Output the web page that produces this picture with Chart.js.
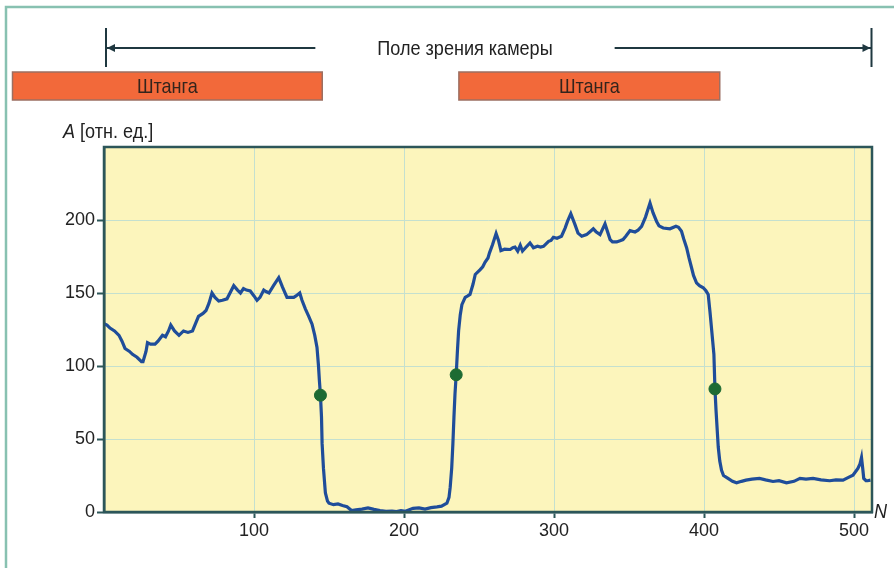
<!DOCTYPE html>
<html lang="ru">
<head>
<meta charset="utf-8">
<title>Поле зрения камеры</title>
<script src="https://cdn.jsdelivr.net/npm/chart.js@4.4.1/dist/chart.umd.min.js"></script>
<style>
  html, body { margin: 0; padding: 0; background: #ffffff; }
  canvas { display: block; }
</style>
</head>
<body>
<canvas id="profile" width="894" height="568"></canvas>
<script>
// Pixel index along the camera line (N) and measured amplitude A, relative units
const pixelIndex = [
  0, 2, 4, 7, 10, 12, 14, 17, 19, 22, 25, 26, 28, 29, 31, 34, 36, 39, 41, 43,
  44.5, 47, 50, 53, 56, 59, 61, 63, 66, 68, 70, 72, 74, 76.5, 79, 82, 84, 86.5, 89, 91,
  93, 95, 97.5, 100, 102, 104, 106.5, 108, 110, 113, 116.5, 119, 122, 124, 126.5, 128, 130.5, 132, 134.3, 136.5,
  138.7, 140.5, 142, 143, 143.6, 144.3, 145, 145.4, 146.3, 147.6, 149, 150, 153, 156, 159, 162, 165, 168, 172, 176,
  180, 184, 188, 192, 195, 198, 201, 204, 206, 210, 214, 218, 222, 225, 228.6, 230, 230.8, 231.8, 232.6, 233.3,
  234, 234.8, 235.6, 236.4, 237.5, 238.6, 240.8, 242.5, 244, 246, 247.5, 250.8, 252.5, 254, 256, 257, 259, 261.4, 263, 264.6,
  267, 270.8, 272.5, 274, 275.8, 277.5, 279, 281, 284, 286.3, 289, 291, 293, 296.4, 298, 299.6, 302, 305, 307.4, 309,
  311.2, 314, 316, 318.5, 321.7, 324, 326.2, 328, 330.7, 334, 337.4, 339, 341.8, 344, 346, 348, 350.7, 354, 356, 358.4,
  361, 364, 366, 368.4, 370, 372.8, 377.3, 381.3, 383, 385, 386.5, 388.4, 390, 391.7, 393, 395, 397, 399.5, 401.3, 402.8,
  404, 405, 406.6, 407.3, 408, 409.5, 410.5, 411.7, 413, 416, 419, 421.7, 425, 428, 432, 437, 441, 446, 450, 455,
  460, 464, 468, 472.7, 478, 483.8, 488, 492.7, 496, 499.3, 502.6, 504, 505, 505.8, 506.5, 508, 509, 511
];
const amplitude = [
  129, 128, 126, 124, 121, 117, 112, 110, 108, 106, 103, 103, 110, 116, 115, 115, 117, 121, 120, 124,
  128, 124, 121, 124, 123, 124, 129, 134, 136, 138, 143, 150, 147, 144.5, 145, 146, 150, 155, 152, 150,
  153, 152, 151.4, 148, 145, 147, 152, 151, 150, 155, 160.5, 154, 147, 147, 147, 148, 150, 145, 139, 134,
  128.6, 121, 112.7, 100, 90, 80, 65, 47, 30, 13, 7.5, 6, 5, 5.5, 4.5, 3.6, 1, 1.5, 2, 2.8,
  1.8, 1, 0.5, 0.6, 0.3, 1, 0.5, 1.8, 2.5, 2.8, 2, 3, 3.5, 4, 6, 10, 17, 30, 47, 65,
  81, 94, 110, 124, 135, 142, 147, 148, 149, 156, 162.7, 166, 168, 171, 174, 177.5, 183, 190.7, 186, 179,
  180, 179.8, 181, 181.4, 178.7, 182.7, 178.7, 181, 184.3, 181, 182, 181.5, 182, 185.4, 186, 188.2, 187.5, 188.9, 194.5, 199,
  204.3, 196.8, 191, 188.9, 190, 192, 194, 192, 190, 197.3, 186.6, 185, 185, 185.8, 186.6, 189, 192.7, 191.8, 193, 195.7,
  202, 211.6, 205, 199, 196, 194.5, 194, 195.7, 195, 192.3, 187, 181, 174, 167.3, 162, 157, 155, 153.6, 151.5, 149,
  137, 126, 108, 84.3, 70, 44.5, 35, 28.6, 25, 23, 21, 20, 21, 21.8, 22.5, 23, 22, 20.9, 21.5, 20,
  21, 23, 22.5, 23, 22, 21.4, 22, 21.8, 23.5, 25.2, 29.8, 33, 37.3, 30, 23, 21.5, 21.4, 21.8
];

// Rod edges marked on the profile
const edgeIndex = [144.3, 234.8, 407.3];
const edgeAmplitude = [80, 94, 84.3];

// Rod spans (in pixel index) shown above the plot
const rodStart = [-61, 236.6];
const rodEnd = [145.5, 410.5];
const rodLabel = 'Штанга';

// Camera field of view (pixel index range)
const fieldStart = 0;
const fieldEnd = 512;
const fieldLabel = 'Поле зрения камеры';

const xTicks = [100, 200, 300, 400, 500];
const yTicks = [0, 50, 100, 150, 200];
const yAxisTitle = ['A', ' [отн. ед.]'];
const xAxisTitle = 'N';

const FONT = '"Liberation Sans", Arial, sans-serif';
const NARROW = 0.86; // horizontal squeeze giving a condensed face

const profilePoints = pixelIndex.map((n, i) => ({ x: n, y: amplitude[i] }));
const edgePoints = edgeIndex.map((n, i) => ({ x: n, y: edgeAmplitude[i] }));

// draws text horizontally condensed; x is the anchor for the given alignment
function narrowText(ctx, text, x, y, font, align) {
  ctx.save();
  ctx.font = font;
  ctx.textAlign = align;
  ctx.translate(x, y);
  ctx.scale(NARROW, 1);
  ctx.fillText(text, 0, 0);
  ctx.restore();
  ctx.font = font;
  return ctx.measureText(text).width * NARROW;
}

const plotBackground = {
  id: 'plotBackground',
  beforeDraw(chart) {
    const { ctx, chartArea: a } = chart;
    ctx.save();
    ctx.fillStyle = '#fcf5bc';
    ctx.fillRect(a.left, a.top, a.right - a.left, a.bottom - a.top);
    ctx.restore();
  }
};

const decorations = {
  id: 'decorations',
  afterDraw(chart) {
    const { ctx, chartArea: a } = chart;
    const xs = chart.scales.x;
    ctx.save();

    // outer page frame
    ctx.strokeStyle = '#88c1b1';
    ctx.lineWidth = 2.5;
    ctx.strokeRect(6, 7, 910, 600);

    // plot frame
    ctx.strokeStyle = '#2c5659';
    ctx.lineWidth = 2.5;
    ctx.strokeRect(a.left, a.top, a.right - a.left, a.bottom - a.top);

    // field of view arrow
    const fx0 = xs.getPixelForValue(fieldStart) + 2;
    const fx1 = xs.getPixelForValue(fieldEnd) - 0.5;
    const ay = 48;
    const titleFont = '21px ' + FONT;
    ctx.font = titleFont;
    const tw = ctx.measureText(fieldLabel).width * NARROW;
    const tc = 465;
    const gap = 62;
    ctx.strokeStyle = '#1f3840';
    ctx.fillStyle = '#1f3840';
    ctx.lineWidth = 2;
    ctx.beginPath();
    ctx.moveTo(fx0, ay); ctx.lineTo(tc - tw / 2 - gap, ay);
    ctx.moveTo(tc + tw / 2 + gap, ay); ctx.lineTo(fx1, ay);
    ctx.moveTo(fx0, 28); ctx.lineTo(fx0, 67);
    ctx.moveTo(fx1, 28); ctx.lineTo(fx1, 67);
    ctx.stroke();
    ctx.beginPath();
    ctx.moveTo(fx0 + 1, ay); ctx.lineTo(fx0 + 9, ay - 4); ctx.lineTo(fx0 + 9, ay + 4); ctx.closePath();
    ctx.moveTo(fx1 - 1, ay); ctx.lineTo(fx1 - 9, ay - 4); ctx.lineTo(fx1 - 9, ay + 4); ctx.closePath();
    ctx.fill();
    ctx.fillStyle = '#222222';
    ctx.textBaseline = 'middle';
    narrowText(ctx, fieldLabel, tc, ay + 1, titleFont, 'center');

    // rod bars
    rodStart.forEach((s, i) => {
      const x0 = xs.getPixelForValue(s);
      const x1 = xs.getPixelForValue(rodEnd[i]);
      ctx.fillStyle = '#f2693a';
      ctx.fillRect(x0, 72, x1 - x0, 28);
      ctx.strokeStyle = '#9c6f62';
      ctx.lineWidth = 1.5;
      ctx.strokeRect(x0, 72, x1 - x0, 28);
      ctx.fillStyle = '#33241c';
      ctx.textBaseline = 'middle';
      narrowText(ctx, rodLabel, (x0 + x1) / 2, 87, '21px ' + FONT, 'center');
    });

    // axis titles
    ctx.fillStyle = '#222222';
    ctx.textBaseline = 'alphabetic';
    const aw = narrowText(ctx, yAxisTitle[0], 63, 138, 'italic 21px ' + FONT, 'left');
    narrowText(ctx, yAxisTitle[1], 63 + aw, 138, '21px ' + FONT, 'left');
    ctx.textBaseline = 'middle';
    narrowText(ctx, xAxisTitle, 874, 512, 'italic 21px ' + FONT, 'left');

    ctx.restore();
  }
};

new Chart(document.getElementById('profile'), {
  type: 'line',
  data: {
    datasets: [
      {
        data: edgePoints,
        showLine: false,
        pointRadius: 6,
        pointHoverRadius: 6,
        pointBackgroundColor: '#1d6b33',
        pointBorderColor: '#1d6b33',
        order: 0
      },
      {
        data: profilePoints,
        borderColor: '#1f4d9a',
        borderWidth: 3.2,
        pointRadius: 0,
        tension: 0,
        fill: false,
        order: 1
      }
    ]
  },
  options: {
    responsive: false,
    animation: false,
    events: [],
    layout: { padding: { top: 147, right: 22, left: 0, bottom: 0 } },
    plugins: { legend: { display: false }, tooltip: { enabled: false } },
    scales: {
      x: {
        type: 'linear',
        min: 0,
        max: 512,
        afterFit: s => { s.height = 56; },
        afterBuildTicks: s => { s.ticks = xTicks.map(v => ({ value: v })); },
        grid: { color: '#c4e0cf', lineWidth: 1, tickColor: '#2c5659', tickLength: 6, tickWidth: 2 },
        border: { display: true, color: '#2c5659', width: 2.5 },
        ticks: { color: '#222222', font: { family: FONT, size: 18 }, padding: 2, maxRotation: 0 }
      },
      y: {
        min: 0,
        max: 250,
        afterFit: s => { s.width = 104; },
        afterBuildTicks: s => { s.ticks = yTicks.map(v => ({ value: v })); },
        grid: { color: '#c4e0cf', lineWidth: 1, tickColor: '#2c5659', tickLength: 7, tickWidth: 2 },
        border: { display: true, color: '#2c5659', width: 2.5 },
        ticks: { color: '#222222', font: { family: FONT, size: 18 }, padding: 2 }
      }
    }
  },
  plugins: [plotBackground, decorations]
});
</script>
</body>
</html>
